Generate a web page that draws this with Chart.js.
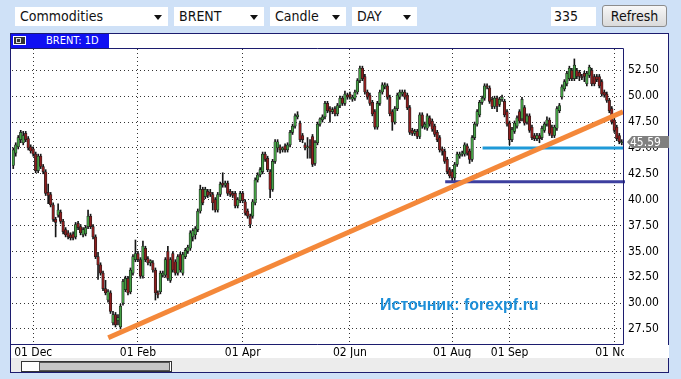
<!DOCTYPE html>
<html>
<head>
<meta charset="utf-8">
<script src="https://cdn.jsdelivr.net/npm/chart.js@4.4.0/dist/chart.umd.min.js"></script>
<style>
html,body{margin:0;padding:0;background:#cfe1f7;}
#wrap{position:relative;width:681px;height:379px;overflow:hidden;background:#cfe1f7;font-family:'Liberation Sans Narrow','DejaVu Sans Condensed','Liberation Sans',sans-serif;}
.sel{position:absolute;top:7px;height:19px;line-height:19px;background:#fff;font-size:14px;color:#111;padding-left:5px;box-sizing:border-box;}
.arr{position:absolute;right:6px;top:8px;width:0;height:0;border-left:4px solid transparent;border-right:4px solid transparent;border-top:5px solid #111;}
#btn{position:absolute;left:602px;top:5px;width:65px;height:22px;box-sizing:border-box;border:1px solid #8c8c8c;border-radius:3px;background:linear-gradient(#f7f7f7,#dadada);font-size:14px;line-height:20px;text-align:center;color:#111;}
#panel{position:absolute;left:10px;top:33px;width:659px;height:340px;box-sizing:border-box;border:1px solid #1c1c6e;background:#fff;}
#tab{position:absolute;left:11px;top:34px;width:98px;height:14px;background:#1010f2;}
#ico{position:absolute;left:13px;top:36px;width:13px;height:9px;border:1px solid #fff;background:#333;box-sizing:border-box;}
#ico2{position:absolute;left:16px;top:38px;width:5px;height:5px;border:1px solid #ddd;box-sizing:border-box;}
#tabtxt{position:absolute;left:46px;top:34px;height:14px;line-height:14px;font-size:11px;color:#fff;}
#scroll{position:absolute;left:11px;top:358px;width:657px;height:14px;background:#ececec;}
#thumb{position:absolute;left:21px;top:361px;width:151px;height:11px;box-sizing:border-box;border:1px solid #333;background:#fff;}
#thumb2{position:absolute;left:39px;top:362px;width:131px;height:9px;box-sizing:border-box;border:1px solid #555;background:#c6c6c6;}
#src{position:absolute;left:380px;top:296px;font-family:'Liberation Sans',Arial,sans-serif;font-size:16px;font-weight:bold;color:#1d8fd8;z-index:3;}
canvas{position:absolute;left:0;top:0;z-index:2;}
</style>
</head>
<body>
<div id="wrap">
  <div class="sel" style="left:15px;width:153px">Commodities<span class="arr"></span></div>
  <div class="sel" style="left:174px;width:90px">BRENT<span class="arr"></span></div>
  <div class="sel" style="left:270px;width:76px">Candle<span class="arr"></span></div>
  <div class="sel" style="left:352px;width:65px">DAY<span class="arr"></span></div>
  <div class="sel" style="left:551px;width:45px;padding-left:3px">335</div>
  <div id="btn">Refresh</div>
  <div id="panel"></div>
  <div id="tab"></div>
  <div id="ico"></div><div id="ico2"></div>
  <div id="tabtxt">BRENT: 1D</div>
  <div id="scroll"></div>
  <div id="thumb"></div><div id="thumb2"></div>
  <div id="src">Источник: forexpf.ru</div>
  <canvas id="c" width="681" height="379"></canvas>
</div>
<script>
// ---- categories (trading days) ----
const dates = [
'2015-11-19','2015-11-20','2015-11-23','2015-11-24','2015-11-25','2015-11-26','2015-11-27','2015-11-30',
'2015-12-01','2015-12-02','2015-12-03','2015-12-04','2015-12-07','2015-12-08','2015-12-09','2015-12-10','2015-12-11','2015-12-14','2015-12-15','2015-12-16','2015-12-17','2015-12-18','2015-12-21','2015-12-22','2015-12-23','2015-12-24','2015-12-28','2015-12-29','2015-12-30','2015-12-31',
'2016-01-04','2016-01-05','2016-01-06','2016-01-07','2016-01-08','2016-01-11','2016-01-12','2016-01-13','2016-01-14','2016-01-15','2016-01-18','2016-01-19','2016-01-20','2016-01-21','2016-01-22','2016-01-25','2016-01-26','2016-01-27','2016-01-28','2016-01-29',
'2016-02-01','2016-02-02','2016-02-03','2016-02-04','2016-02-05','2016-02-08','2016-02-09','2016-02-10','2016-02-11','2016-02-12','2016-02-15','2016-02-16','2016-02-17','2016-02-18','2016-02-19','2016-02-22','2016-02-23','2016-02-24','2016-02-25','2016-02-26','2016-02-29',
'2016-03-01','2016-03-02','2016-03-03','2016-03-04','2016-03-07','2016-03-08','2016-03-09','2016-03-10','2016-03-11','2016-03-14','2016-03-15','2016-03-16','2016-03-17','2016-03-18','2016-03-21','2016-03-22','2016-03-23','2016-03-24','2016-03-29','2016-03-30','2016-03-31',
'2016-04-01','2016-04-04','2016-04-05','2016-04-06','2016-04-07','2016-04-08','2016-04-11','2016-04-12','2016-04-13','2016-04-14','2016-04-15','2016-04-18','2016-04-19','2016-04-20','2016-04-21','2016-04-22','2016-04-25','2016-04-26','2016-04-27','2016-04-28','2016-04-29',
'2016-05-02','2016-05-03','2016-05-04','2016-05-05','2016-05-06','2016-05-09','2016-05-10','2016-05-11','2016-05-12','2016-05-13','2016-05-16','2016-05-17','2016-05-18','2016-05-19','2016-05-20','2016-05-23','2016-05-24','2016-05-25','2016-05-26','2016-05-27','2016-05-31',
'2016-06-01','2016-06-02','2016-06-03','2016-06-06','2016-06-07','2016-06-08','2016-06-09','2016-06-10','2016-06-13','2016-06-14','2016-06-15','2016-06-16','2016-06-17','2016-06-20','2016-06-21','2016-06-22','2016-06-23','2016-06-24','2016-06-27','2016-06-28','2016-06-29','2016-06-30',
'2016-07-01','2016-07-05','2016-07-06','2016-07-07','2016-07-08','2016-07-11','2016-07-12','2016-07-13','2016-07-14','2016-07-15','2016-07-18','2016-07-19','2016-07-20','2016-07-21','2016-07-22','2016-07-25','2016-07-26','2016-07-27','2016-07-28','2016-07-29',
'2016-08-01','2016-08-02','2016-08-03','2016-08-04','2016-08-05','2016-08-08','2016-08-09','2016-08-10','2016-08-11','2016-08-12','2016-08-15','2016-08-16','2016-08-17','2016-08-18','2016-08-19','2016-08-22','2016-08-23','2016-08-24','2016-08-25','2016-08-26','2016-08-29','2016-08-30','2016-08-31',
'2016-09-01','2016-09-02','2016-09-06','2016-09-07','2016-09-08','2016-09-09','2016-09-12','2016-09-13','2016-09-14','2016-09-15','2016-09-16','2016-09-19','2016-09-20','2016-09-21','2016-09-22','2016-09-23','2016-09-26','2016-09-27','2016-09-28','2016-09-29','2016-09-30',
'2016-10-03','2016-10-04','2016-10-05','2016-10-06','2016-10-07','2016-10-10','2016-10-11','2016-10-12','2016-10-13','2016-10-14','2016-10-17','2016-10-18','2016-10-19','2016-10-20','2016-10-21','2016-10-24','2016-10-25','2016-10-26','2016-10-27','2016-10-28','2016-10-31',
'2016-11-01','2016-11-02','2016-11-03','2016-11-04'
];

// ---- OHLC series ----
const opens = [
43.3,44.5,45.1,45.8,45.5,46.4,45.9,45.1,44.9,44.4, 42.8,44.2,43.2,42.7,40.7,40.5,39.5,38.1,38.5,38.8,
37.9,37.1,36.8,36.6,36.7,36.4,37.7,37.4,36.6,36.7, 37.4,38.4,37.4,36.4,34.5,33.7,32.9,31.4,30.3,31.0,
28.1,28.9,28.3,27.7,30.0,31.3,32.4,31.1,32.9,34.2, 34.8,34.2,32.6,35.3,34.3,33.9,33.9,33.2,31.0,31.1,
32.7,32.7,35.0,32.2,34.8,34.0,32.9,34.7,32.9,34.5, 35.0,35.3,36.4,36.6,37.1,38.9,41.0,40.3,40.8,40.7,
40.5,40.0,39.0,40.5,41.6,41.4,41.6,40.8,40.6,40.6, 39.4,39.9,40.6,39.8,38.9,38.4,38.4,39.7,41.9,42.4,
42.7,44.4,44.0,42.7,41.0,43.7,45.0,45.1,44.8,45.2, 44.8,45.3,46.5,47.1,48.0,47.4,46.2,45.3,45.0,45.2,
46.1,43.5,45.5,47.3,47.7,48.0,49.3,48.8,48.5,48.8, 48.3,49.1,49.8,49.3,50.1,50.2,49.7,49.8,50.4,51.5,
52.7,51.9,50.4,50.1,49.4,48.5,47.0,49.3,50.4,50.9, 51.0,49.9,48.5,47.5,48.8,49.9,50.2,50.4,50.1,48.9,
46.7,46.4,46.6,46.1,48.2,47.0,46.9,47.9,47.6,47.1, 46.5,46.0,44.9,44.7,43.9,42.9,42.7,42.1,43.4,44.2,
44.4,44.4,45.2,44.7,43.9,46.0,47.3,48.2,49.4,49.8, 51.0,50.8,49.7,49.0,49.8,49.2,49.7,49.5,48.5,47.4,
45.8,46.6,47.1,48.5,47.8,48.9,47.5,48.1,47.0,46.2, 45.9,46.2,46.0,46.7,47.3,47.7,47.0,46.2,46.9,48.6,
49.9,50.7,51.2,51.7,52.5,51.7,52.5,52.3,51.9,52.2, 51.2,52.0,52.5,51.9,51.9,51.9,51.4,50.4,50.2,49.6,
48.8,47.7,47.0,46.2,45.5
];
const highs = [
45.0,45.5,46.2,46.7,46.6,46.6,46.1,45.3,45.1,44.6, 44.4,44.4,43.4,42.9,41.5,40.7,39.7,38.3,39.6,39.0,
38.1,37.3,37.0,36.8,36.9,37.8,37.9,37.6,37.3,37.5, 39.0,38.6,37.6,36.6,34.9,33.9,33.1,32.2,31.3,31.2,
29.2,29.1,28.9,29.9,32.3,32.6,32.6,33.4,34.7,36.1, 35.0,34.4,36.0,35.5,34.5,34.2,34.1,33.4,31.2,33.1,
33.1,34.4,35.5,34.4,35.0,34.2,34.7,34.9,34.9,35.3, 35.6,37.0,37.2,37.4,39.1,41.4,41.2,41.2,41.0,41.0,
40.7,40.2,40.7,41.7,42.6,41.8,41.8,41.0,40.8,40.8, 40.2,40.8,40.8,40.0,39.1,38.6,40.0,42.1,42.6,43.1,
44.6,44.6,44.2,42.9,43.9,45.8,45.8,45.3,45.1,45.4, 45.5,46.7,47.3,48.3,48.5,47.6,46.4,45.5,46.0,45.8,
46.3,45.7,47.5,47.9,48.2,49.5,49.5,49.0,48.9,49.0, 49.3,50.0,50.0,50.5,50.3,50.4,50.1,50.6,51.7,52.9,
52.9,52.1,50.6,50.3,49.6,48.7,49.5,50.6,51.3,51.3, 51.2,50.1,48.7,49.0,50.3,50.6,50.6,50.6,50.3,49.1,
46.9,46.8,46.8,48.4,48.4,47.5,48.3,48.1,47.8,47.3, 46.7,46.2,45.1,44.9,44.1,43.1,42.9,43.6,44.6,44.6,
44.7,45.5,45.4,44.9,46.2,47.5,48.7,49.6,50.0,51.2, 51.2,51.0,49.9,50.0,50.0,49.9,50.1,49.7,48.7,47.6,
47.0,47.6,48.1,48.7,49.9,49.1,48.3,48.3,47.2,46.4, 46.4,46.4,47.1,47.5,48.0,47.9,47.2,47.2,49.0,49.3,
51.1,51.6,52.4,52.9,52.7,53.6,52.7,52.5,52.1,52.4, 52.4,53.0,52.7,52.1,52.1,52.1,51.6,50.6,50.4,49.8,
49.0,47.9,47.2,46.4,45.8
];
const lows = [
43.0,44.2,44.9,45.5,45.3,45.6,44.8,44.5,44.2,42.6, 42.6,43.0,42.5,40.4,39.6,39.3,37.9,36.4,38.3,37.7,
36.7,36.4,36.2,36.1,36.1,36.2,37.1,36.6,36.4,36.5, 37.2,37.2,36.2,34.3,32.3,32.7,31.2,30.8,30.1,29.0,
27.9,27.7,27.9,27.5,29.8,31.1,30.8,30.9,32.7,34.0, 34.0,32.4,32.4,34.0,33.7,33.6,33.0,30.3,30.5,30.9,
32.5,32.5,32.2,32.0,33.0,32.7,32.7,33.0,32.7,34.3, 34.8,35.1,36.0,36.2,36.9,38.7,39.5,40.1,40.2,40.3,
39.0,38.8,38.8,40.3,41.2,41.2,40.4,40.3,40.2,39.2, 39.2,39.7,39.7,38.5,38.2,37.3,38.2,39.5,41.7,42.2,
42.5,43.7,42.7,40.2,40.8,43.5,44.6,44.5,44.6,44.6, 44.6,45.1,46.3,46.9,47.8,45.6,45.5,44.8,44.0,44.0,
43.2,43.3,45.3,47.1,47.5,47.8,48.4,47.5,48.3,48.1, 48.1,48.9,49.1,49.1,49.7,49.7,49.5,49.6,50.2,51.3,
51.5,50.2,49.7,49.1,48.1,46.8,46.8,49.1,50.2,50.7, 49.7,48.1,46.7,47.3,48.6,49.7,50.0,49.7,48.7,46.3,
46.2,46.2,45.9,45.9,46.9,46.8,46.7,47.1,46.6,46.1, 45.6,44.6,44.3,43.5,42.5,42.1,41.8,41.6,43.2,44.0,
44.2,44.2,44.3,43.5,43.7,45.8,47.1,48.0,49.2,49.6, 50.7,49.3,48.8,48.8,48.5,49.0,49.5,48.0,47.1,45.3,
45.6,46.4,46.9,47.4,47.6,47.2,47.3,46.5,45.8,45.7, 45.7,45.5,45.8,46.5,47.1,46.2,46.0,46.0,46.7,48.4,
49.7,50.5,51.0,51.5,51.5,51.5,51.7,51.5,51.6,51.4, 51.0,51.8,51.0,51.0,51.4,50.8,50.0,49.9,49.4,48.4,
47.3,46.5,45.7,45.4,45.3
];
const closes = [
44.8,45.3,46.0,46.5,46.2,45.8,45.0,44.7,44.4,42.8, 44.2,43.2,42.7,40.6,40.4,39.5,38.1,37.8,39.0,37.9,
36.9,36.6,36.4,36.3,36.3,37.6,37.3,36.8,37.1,37.3, 38.4,37.4,36.4,34.5,33.7,32.9,31.4,31.0,31.1,29.2,
28.9,27.9,28.6,29.7,32.1,32.4,31.0,33.2,34.5,34.8, 34.2,32.6,35.5,34.2,33.9,34.1,33.2,31.0,30.8,32.9,
32.9,34.2,32.4,34.2,33.2,32.9,34.5,33.2,34.7,35.1, 35.4,36.8,37.0,37.2,38.9,41.0,39.7,41.0,40.4,40.5,
39.7,39.0,40.5,41.5,41.4,41.6,40.6,40.5,40.4,39.4, 40.0,40.6,39.9,38.7,38.4,37.6,39.8,41.9,42.4,42.9,
44.4,43.9,42.9,41.0,43.7,45.6,45.6,44.8,45.0,44.8, 45.3,46.5,47.1,48.1,48.2,45.8,45.8,45.0,45.1,45.0,
43.4,45.5,47.3,47.8,48.0,49.3,48.6,48.5,48.7,48.3, 49.1,49.8,49.3,50.2,49.9,49.9,49.9,50.4,51.5,52.7,
51.7,50.4,49.9,49.3,48.3,47.0,49.3,50.4,51.1,51.1, 49.9,48.3,47.5,48.8,50.1,50.4,50.4,49.9,48.9,46.5,
46.4,46.6,46.1,48.2,47.1,47.3,48.1,47.3,46.8,46.3, 45.8,44.8,44.7,43.7,42.7,42.3,42.1,43.4,44.4,44.4,
44.5,45.3,44.5,43.9,46.0,47.3,48.5,49.4,49.8,51.0, 50.9,49.5,49.0,49.8,49.0,49.7,49.9,48.2,47.3,45.8,
46.8,47.4,47.9,47.6,49.7,47.4,48.1,46.7,46.0,45.9, 46.2,45.9,46.9,47.3,47.7,46.4,46.2,47.0,48.8,49.1,
50.9,51.4,52.2,52.7,51.7,53.0,51.9,51.9,51.8,51.9, 52.2,52.8,51.2,51.2,51.6,51.0,50.2,50.1,49.6,48.6,
47.5,46.7,45.9,45.6,45.59
];

// ---- axis ticks ----
const tickDates  = ['2015-12-01','2016-02-01','2016-04-01','2016-06-02','2016-08-01','2016-09-01','2016-11-01'];
const tickLabels = ['01 Dec','01 Feb','01 Apr','02 Jun','01 Aug','01 Sep','01 Nov'];
const priceTicks = [27.5,30,32.5,35,37.5,40,42.5,45,47.5,50,52.5];

// ---- drawn lines (x = trading-day index, y = price) ----
const trendLine   = [{x:38.1,y:26.66},{x:244.5,y:48.5}];
const supportHigh = [{x:188.2,y:45.0},{x:244.5,y:45.0}];
const supportLow  = [{x:173.2,y:41.74},{x:245.3,y:41.74}];
const lastPrice = 45.59;

const GREEN = '#45a045', RED = '#8e1e1e', OUTLINE = '#1e1e1e';
const wickData = dates.map((d,i)=>({x:i, y:[lows[i], highs[i]]}));
const bodyData = dates.map((d,i)=>({x:i, y:[Math.min(opens[i],closes[i]), Math.max(opens[i],closes[i])]}));
const bodyColors = dates.map((d,i)=> closes[i] >= opens[i] ? GREEN : RED);
const FONT = "'Liberation Sans Narrow','DejaVu Sans Condensed','Liberation Sans',sans-serif";

const decor = {
  id:'decor',
  afterDraw(chart){
    const ctx = chart.ctx, a = chart.chartArea, y = chart.scales.y;
    ctx.save();
    // clip x label overflow to right of plot
    ctx.fillStyle = '#fff';
    ctx.fillRect(a.right + 1, a.bottom + 1, 45, 13);
    // frame
    ctx.strokeStyle = '#1c1c6e'; ctx.lineWidth = 1;
    ctx.beginPath();
    ctx.moveTo(11, a.top - 0.5); ctx.lineTo(a.right + 0.5, a.top - 0.5);
    ctx.lineTo(a.right + 0.5, a.bottom + 0.5); ctx.lineTo(11, a.bottom + 0.5);
    ctx.stroke();
    // last price marker
    const py = Math.round(y.getPixelForValue(lastPrice));
    const x0 = a.right + 4;
    ctx.fillStyle = '#808080';
    ctx.beginPath();
    ctx.moveTo(x0, py); ctx.lineTo(x0 + 5, py - 6); ctx.lineTo(669, py - 6);
    ctx.lineTo(669, py + 6); ctx.lineTo(x0 + 5, py + 6); ctx.closePath(); ctx.fill();
    ctx.fillStyle = '#fff'; ctx.font = '12px ' + FONT; ctx.textBaseline = 'middle'; ctx.textAlign = 'left';
    ctx.fillText(lastPrice.toFixed(2), x0 + 3, py + 0.5);
    ctx.restore();
  }
};

new Chart(document.getElementById('c'), {
  type: 'bar',
  data: { datasets: [
    { type:'line', data: trendLine, borderColor:'#f4883a', borderWidth:5, pointRadius:0, order:0 },
    { type:'line', data: supportHigh, borderColor:'#1f9ad8', borderWidth:3, pointRadius:0, order:0 },
    { type:'line', data: supportLow, borderColor:'#3d3f9f', borderWidth:3, pointRadius:0, order:0, clip:{left:0,top:0,right:3,bottom:0} },
    { data: bodyData, backgroundColor: bodyColors, borderColor: OUTLINE, borderWidth: 0.7, borderSkipped: false, barThickness: 2.6, grouped:false, order:1 },
    { data: wickData, backgroundColor: '#151515', barThickness: 1, grouped:false, order:2 }
  ]},
  options: {
    responsive:false, animation:false, devicePixelRatio:1,
    layout:{ padding:{ left:12, right:12, top:49, bottom:21 } },
    plugins:{ legend:{display:false}, tooltip:{enabled:false} },
    scales:{
      x:{ type:'linear', min:-0.5, max:244.5, offset:false,
          grid:{ color:'#333', lineWidth:1, drawTicks:false, offset:false },
          border:{ display:false, dash:[1,3] },
          afterBuildTicks: s => { s.ticks = tickDates.map(d => ({ value: dates.indexOf(d) })); },
          afterFit: s => { s.height = 14; },
          ticks:{ autoSkip:false, maxRotation:0, padding:2, color:'#000', font:{family:FONT, size:12},
                  callback:(v,i) => tickLabels[i] } },
      y:{ type:'linear', position:'right', min:26.05, max:54.56,
          grid:{ color:'#333', lineWidth:1, drawTicks:false },
          border:{ display:false, dash:[1,3] },
          afterBuildTicks: s => { s.ticks = priceTicks.map(v => ({ value: v })); },
          afterFit: s => { s.width = 46; },
          ticks:{ padding:5, color:'#000', font:{family:FONT, size:12}, callback: v => Number(v).toFixed(2) } }
    }
  },
  plugins:[decor]
});
</script>
</body>
</html>
